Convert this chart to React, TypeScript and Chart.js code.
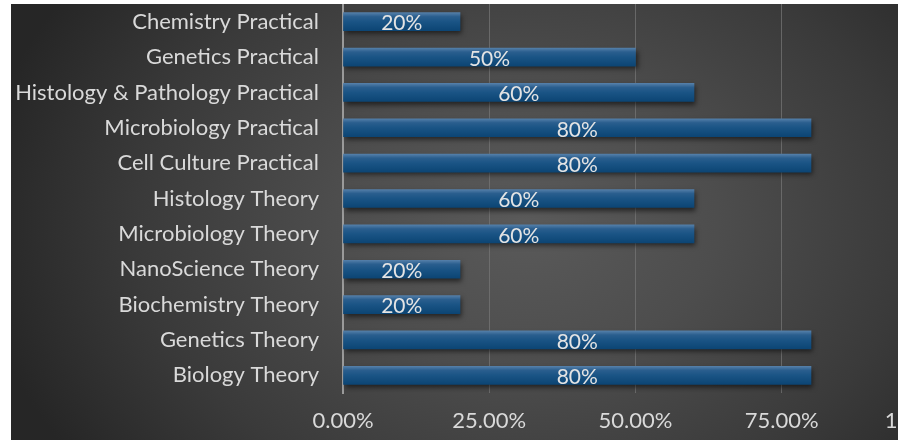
import React, { useEffect, useRef } from "react";
import { Chart, registerables } from "chart.js";

Chart.register(...registerables);

// bottom-to-top order (as in the source sheet)
const categories = [
  "Biology Theory",
  "Genetics Theory",
  "Biochemistry Theory",
  "NanoScience Theory",
  "Microbiology Theory",
  "Histology Theory",
  "Cell Culture Practical",
  "Microbiology Practical",
  "Histology & Pathology Practical",
  "Genetics Practical",
  "Chemistry Practical",
];
const values = [0.8, 0.8, 0.2, 0.2, 0.6, 0.6, 0.8, 0.8, 0.6, 0.5, 0.2];
const xTicks = [0, 0.25, 0.5, 0.75, 1];

const FONT = "Lato, 'Open Sans', sans-serif";
const TEXT = "#d9d9d9";
const FS = 22;

export default function App() {
  const ref = useRef<HTMLCanvasElement | null>(null);

  useEffect(() => {
    const canvas = ref.current!;
    const barPlugin = {
      id: "barDeco",
      beforeDatasetsDraw(chart: any) {
        const ctx = chart.ctx;
        ctx.save();
        ctx.shadowColor = "rgba(0,0,0,0.55)";
        ctx.shadowBlur = 5;
        ctx.shadowOffsetX = 2;
        ctx.shadowOffsetY = 3;
      },
      afterDatasetsDraw(chart: any) {
        const ctx = chart.ctx;
        ctx.restore();
        const meta = chart.getDatasetMeta(0);
        ctx.save();
        ctx.font = `${FS - 1}px ${FONT}`;
        ctx.fillStyle = "#e4e4e4";
        ctx.textAlign = "center";
        ctx.textBaseline = "middle";
        meta.data.forEach((el: any, i: number) => {
          const v = values[i];
          const cx = (el.base + el.x) / 2;
          ctx.fillText(`${Math.round(v * 100)}%`, cx, el.y + 2);
        });
        ctx.restore();
      },
    };

    const chart = new Chart(canvas, {
      type: "bar",
      data: {
        labels: categories,
        datasets: [
          {
            data: values,
            barThickness: 18,
            borderWidth: 0,
            backgroundColor: (c: any) => {
              const ch = c.chart;
              const ys = ch.scales?.y;
              if (!ys) return "#1a5588";
              const yc = ys.getPixelForValue(c.dataIndex);
              if (!Number.isFinite(yc)) return "#1a5588";
              const g = ch.ctx.createLinearGradient(0, yc - 9, 0, yc + 9);
              g.addColorStop(0, "#547fa9");
              g.addColorStop(0.22, "#2a5e8e");
              g.addColorStop(0.5, "#1a5485");
              g.addColorStop(1, "#0c4574");
              return g;
            },
          },
        ],
      },
      options: {
        indexAxis: "y",
        responsive: false,
        animation: false,
        devicePixelRatio: 1,
        layout: { padding: 0 },
        plugins: {
          legend: { display: false },
          tooltip: { enabled: false },
        },
        scales: {
          x: {
            min: 0,
            max: 1,
            afterBuildTicks: (s: any) => {
              s.ticks = xTicks.map((v) => ({ value: v }));
            },
            afterFit: (s: any) => {
              s.height = 47;
              s.paddingLeft = 0;
              s.paddingRight = 0;
            },
            ticks: {
              color: TEXT,
              font: { family: FONT, size: FS },
              padding: 15,
              maxRotation: 0,
              autoSkip: false,
              callback: (v: any) => (Number(v) * 100).toFixed(2) + "%",
            },
            grid: {
              color: (c: any) => (c.tick && c.tick.value === 0 ? "rgba(0,0,0,0)" : "rgba(120,120,120,0.7)"),
              lineWidth: 1,
              drawTicks: false,
            },
            border: { display: false },
          },
          y: {
            reverse: true,
            afterFit: (s: any) => {
              s.width = 332;
              s.paddingTop = 0;
              s.paddingBottom = 0;
            },
            ticks: {
              color: TEXT,
              font: { family: FONT, size: FS },
              padding: 24,
              autoSkip: false,
            },
            grid: { display: false, drawTicks: false },
            border: { display: true, color: "#9a9a9a", width: 2 },
          },
        },
      },
      plugins: [barPlugin],
    } as any);

    return () => chart.destroy();
  }, []);

  return (
    <div
      style={{
        position: "fixed",
        left: 11,
        top: 4,
        width: 887,
        height: 436,
        overflow: "hidden",
        background:
          "radial-gradient(ellipse 62% 95% at 58% 50%, #5a5a5a 0%, #4d4d4d 35%, #3a3a3a 70%, #262626 100%)",
      }}
    >
      <canvas ref={ref} width={917} height={436} style={{ display: "block" }} />
    </div>
  );
}
